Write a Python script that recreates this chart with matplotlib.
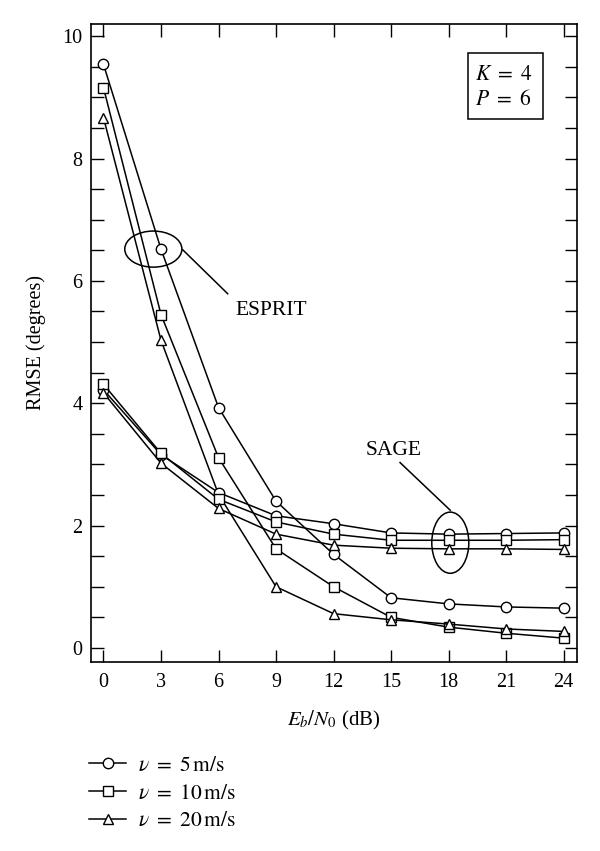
#!/usr/bin/env python3
"""
RMSE of angle estimates vs Eb/N0 for ESPRIT and SAGE (K = 4, P = 6)
"""

import matplotlib
matplotlib.use("Agg")
import matplotlib.pyplot as plt
from matplotlib.lines import Line2D
from matplotlib.patches import Ellipse, Rectangle
from matplotlib.ticker import MultipleLocator

plt.rcParams['font.family'] = ['Liberation Serif', 'DejaVu Serif']
plt.rcParams['mathtext.fontset'] = 'stix'

# Eb/N0 in dB
snr_db = [0, 3, 6, 9, 12, 15, 18, 21, 24]

# ESPRIT curves (degrees)
esprit_5 = [9.54, 6.52, 3.93, 2.40, 1.53, 0.82, 0.72, 0.67, 0.65]
esprit_10 = [9.16, 5.45, 3.11, 1.62, 1.00, 0.50, 0.34, 0.24, 0.16]
esprit_20 = [8.67, 5.03, 2.51, 1.00, 0.56, 0.46, 0.39, 0.31, 0.27]

# SAGE curves (degrees)
sage_5 = [4.22, 3.16, 2.54, 2.16, 2.03, 1.88, 1.86, 1.87, 1.88]
sage_10 = [4.31, 3.18, 2.43, 2.06, 1.86, 1.76, 1.76, 1.76, 1.77]
sage_20 = [4.17, 3.02, 2.28, 1.86, 1.68, 1.63, 1.62, 1.62, 1.61]

speeds = [5, 10, 20]
markers = ['o', 's', '^']

fig = plt.figure(figsize=(6, 8.51), dpi=100)
ax = fig.add_axes([0.1517, 0.2221, 0.81, 0.7497])

style = dict(color='black', lw=1.1, mfc='white', mec='black', mew=1.0, ms=7.5)
for ys, m in zip([esprit_5, esprit_10, esprit_20], markers):
    ax.plot(snr_db, ys, marker=m, **style)
for ys, m in zip([sage_5, sage_10, sage_20], markers):
    ax.plot(snr_db, ys, marker=m, **style)

ax.set_xlim(-0.65, 24.7)
ax.set_ylim(-0.23, 10.2)
ax.set_xticks(snr_db)
ax.yaxis.set_major_locator(MultipleLocator(2))
ax.yaxis.set_minor_locator(MultipleLocator(0.5))
ax.tick_params(which='both', direction='in', top=True, right=True,
               length=9, width=1.0, labelsize=14.5)
ax.tick_params(axis='x', pad=8)
ax.tick_params(axis='y', pad=6)
for s in ax.spines.values():
    s.set_linewidth(1.2)

ax.set_xlabel(r'$E_b/N_0$ (dB)', fontsize=15, labelpad=12)
ax.set_ylabel('RMSE (degrees)', fontsize=14.5, labelpad=12)

# group annotations
ax.add_patch(Ellipse((2.6, 6.52), 2.98, 0.59, fill=False, lw=1.1))
ax.plot([4.13, 6.48], [6.51, 5.79], color='black', lw=1.1)
ax.text(6.9, 5.52, 'ESPRIT', fontsize=15.5, va='center', ha='left')

ax.add_patch(Ellipse((18.09, 1.72), 1.93, 1.0, fill=False, lw=1.1))
ax.plot([15.47, 18.09], [3.03, 2.25], color='black', lw=1.1)
ax.text(15.16, 3.22, 'SAGE', fontsize=15.5, va='center', ha='center')

# parameter box
ax.add_patch(Rectangle((0.776, 0.851), 0.154, 0.1035, transform=ax.transAxes,
                       fill=False, lw=1.1))
ax.text(0.79, 0.92, r'$K\ =\ 4$', transform=ax.transAxes, fontsize=15.5,
        va='center', ha='left')
ax.text(0.79, 0.881, r'$P\ =\ 6$', transform=ax.transAxes, fontsize=15.5,
        va='center', ha='left')

# legend below the axes
handles = [Line2D([], [], marker=m, **style) for m in markers]
labels = [r'$\nu\ =\ %d\,\mathrm{m/s}$' % v for v in speeds]
fig.legend(handles, labels, loc='upper left', bbox_to_anchor=(0.148, 0.112),
           frameon=False, fontsize=15.5, handlelength=1.75, handletextpad=0.55,
           labelspacing=0.36, borderpad=0, borderaxespad=0)

fig.savefig('out.png', dpi=100)
